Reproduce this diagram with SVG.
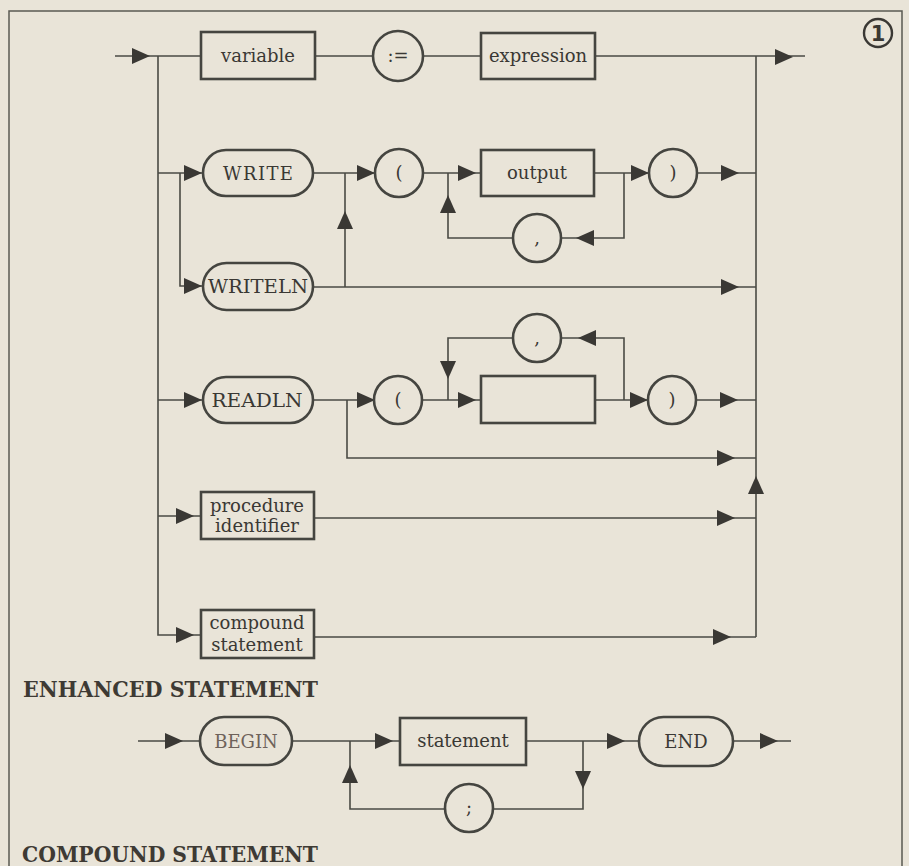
<svg xmlns="http://www.w3.org/2000/svg" width="909" height="866" viewBox="0 0 909 866">
<style>
.bg{fill:#e9e4d8}
.frame{fill:none;stroke:#5a5a52;stroke-width:1.5}
.node{fill:none;stroke:#454540;stroke-width:2.6}
.ln{fill:none;stroke:#4a4a44;stroke-width:1.6}
.ah{fill:#3a3834}
.t{font-family:"DejaVu Serif","Liberation Serif",serif;font-size:18px;fill:#3a3834;text-anchor:middle}
.h{font-family:"DejaVu Serif","Liberation Serif",serif;font-size:22px;font-weight:bold;fill:#3e3a34}
</style>
<defs>
<path id="ar" d="M-17,-8 L1,0 L-17,8 Z"/>
</defs>
<rect class="bg" x="0" y="0" width="909" height="866"/>
<path class="frame" d="M9,866 V11 H902 V866"/>
<g id="badge">
<circle cx="878" cy="33" r="14" fill="none" stroke="#3a3834" stroke-width="2.4"/>
<text x="878" y="41" style="font-family:'DejaVu Sans',sans-serif;font-size:21px;font-weight:bold;fill:#3a3834;text-anchor:middle">1</text>
</g>
<g id="connectors">
<path class="ln" d="M115,56 H201 M315,56 H373 M422,56 H481 M595,56 H805"/>
<path class="ln" d="M158,56 V635 H201"/>
<path class="ln" d="M158,173 H203 M180,173 V286 H203"/>
<path class="ln" d="M313,173 H375 M345,173 V287 M313,287 H756"/>
<path class="ln" d="M423,173 H481 M448,173 V238 H513 M561,238 H624 V173 M594,173 H649 M697,173 H756"/>
<path class="ln" d="M158,400 H203 M313,400 H374 M347,400 V458 H756"/>
<path class="ln" d="M422,400 H481 M448,400 V338 H513 M561,338 H624 V400 M595,400 H648 M696,400 H756"/>
<path class="ln" d="M158,516 H201 M314,518 H756 M314,637 H756"/>
<path class="ln" d="M756,56 V637"/>
<path class="ln" d="M138,741 H200 M292,741 H400 M350,741 V809 H445 M493,809 H583 V741 M526,741 H639 M733,741 H791"/>
<g class="ah">
<use href="#ar" transform="translate(149,56)"/>
<use href="#ar" transform="translate(792,57)"/>
<use href="#ar" transform="translate(201,173)"/>
<use href="#ar" transform="translate(374,173)"/>
<use href="#ar" transform="translate(475,173)"/>
<use href="#ar" transform="translate(448,196) rotate(-90)"/>
<use href="#ar" transform="translate(577,238) rotate(180)"/>
<use href="#ar" transform="translate(648,173)"/>
<use href="#ar" transform="translate(738,173)"/>
<use href="#ar" transform="translate(201,286)"/>
<use href="#ar" transform="translate(345,212) rotate(-90)"/>
<use href="#ar" transform="translate(738,287)"/>
<use href="#ar" transform="translate(201,400)"/>
<use href="#ar" transform="translate(374,400)"/>
<use href="#ar" transform="translate(448,378) rotate(90)"/>
<use href="#ar" transform="translate(579,338) rotate(180)"/>
<use href="#ar" transform="translate(475,400)"/>
<use href="#ar" transform="translate(647,400)"/>
<use href="#ar" transform="translate(737,400)"/>
<use href="#ar" transform="translate(734,458)"/>
<use href="#ar" transform="translate(193,516)"/>
<use href="#ar" transform="translate(734,518)"/>
<use href="#ar" transform="translate(756,477) rotate(-90)"/>
<use href="#ar" transform="translate(193,635)"/>
<use href="#ar" transform="translate(730,637)"/>
<use href="#ar" transform="translate(182,741)"/>
<use href="#ar" transform="translate(392,741)"/>
<use href="#ar" transform="translate(350,766) rotate(-90)"/>
<use href="#ar" transform="translate(624,741)"/>
<use href="#ar" transform="translate(583,788) rotate(90)"/>
<use href="#ar" transform="translate(777,741)"/>
</g>
</g>
<g id="n-variable"><rect class="node" x="201" y="32" width="114" height="47"/><text class="t" x="258" y="62">variable</text></g>
<g id="n-assign"><circle class="node" cx="398" cy="56" r="25"/><text class="t" x="398" y="62">:=</text></g>
<g id="n-expression"><rect class="node" x="481" y="33" width="114" height="46"/><text class="t" x="538" y="62">expression</text></g>
<g id="n-write"><rect class="node" x="203" y="150" width="110" height="46" rx="23"/><text class="t" x="258" y="180" textLength="70">WRITE</text></g>
<g id="n-lparen1"><circle class="node" cx="399" cy="173" r="24"/><text class="t" x="399" y="179">(</text></g>
<g id="n-output"><rect class="node" x="481" y="150" width="113" height="46"/><text class="t" x="537" y="179">output</text></g>
<g id="n-comma1"><circle class="node" cx="537" cy="238" r="24"/><text class="t" x="537" y="244">,</text></g>
<g id="n-rparen1"><circle class="node" cx="673" cy="173" r="24"/><text class="t" x="673" y="179">)</text></g>
<g id="n-writeln"><rect class="node" x="203" y="263" width="110" height="47" rx="23.5"/><text class="t" x="258" y="293" textLength="100" lengthAdjust="spacingAndGlyphs">WRITELN</text></g>
<g id="n-readln"><rect class="node" x="203" y="377" width="110" height="46" rx="23"/><text class="t" x="257" y="407" textLength="91" lengthAdjust="spacingAndGlyphs">READLN</text></g>
<g id="n-lparen2"><circle class="node" cx="398" cy="400" r="24"/><text class="t" x="398" y="406">(</text></g>
<g id="n-comma2"><circle class="node" cx="537" cy="338" r="24"/><text class="t" x="537" y="344">,</text></g>
<g id="n-blank"><rect class="node" x="481" y="376" width="114" height="47"/></g>
<g id="n-rparen2"><circle class="node" cx="672" cy="400" r="24"/><text class="t" x="672" y="406">)</text></g>
<g id="n-procedure"><rect class="node" x="201" y="492" width="113" height="47"/><text class="t" x="257" y="512">procedure</text><text class="t" x="257" y="532">identifier</text></g>
<g id="n-compound"><rect class="node" x="201" y="610" width="113" height="48"/><text class="t" x="257" y="629">compound</text><text class="t" x="257" y="651">statement</text></g>
<text class="h" x="23" y="697" textLength="295" lengthAdjust="spacingAndGlyphs">ENHANCED STATEMENT</text>
<g id="n-begin"><rect class="node" x="200" y="717" width="92" height="48" rx="24"/><text class="t" x="246" y="748" style="fill:#6e625a">BEGIN</text></g>
<g id="n-statement"><rect class="node" x="400" y="718" width="126" height="47"/><text class="t" x="463" y="747">statement</text></g>
<g id="n-semicolon"><circle class="node" cx="469" cy="808" r="24"/><text class="t" x="469" y="814">;</text></g>
<g id="n-end"><rect class="node" x="639" y="717" width="94" height="49" rx="24.5"/><text class="t" x="686" y="748">END</text></g>
<text class="h" x="22" y="862" textLength="296" lengthAdjust="spacingAndGlyphs">COMPOUND STATEMENT</text>
</svg>
